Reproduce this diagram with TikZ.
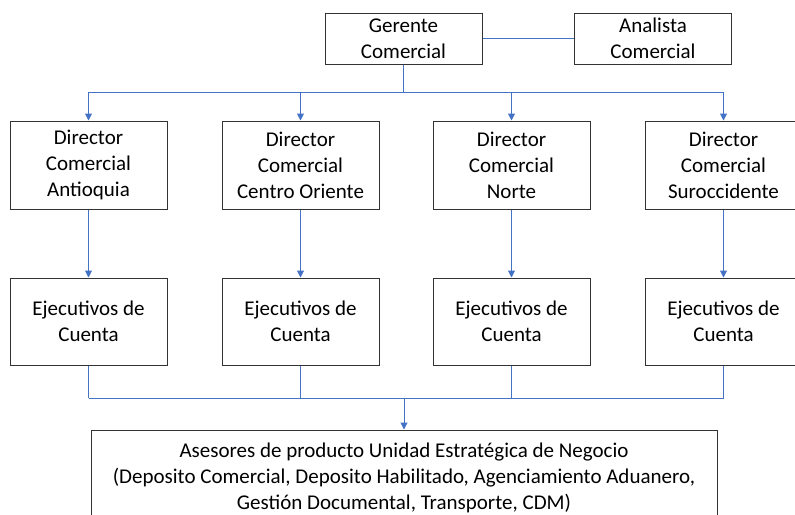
\documentclass[tikz,border=0pt]{standalone}
\usepackage{fontspec}
\setmainfont{Carlito}
\usetikzlibrary{arrows.meta}
\definecolor{linkblue}{HTML}{4472C4}
\begin{document}
\begin{tikzpicture}[x=1pt,y=-1pt,
  box/.style={draw=black!80,line width=1pt,align=center,inner sep=0pt,
    font=\fontsize{21}{26}\selectfont,minimum width=157pt},
  topbox/.style={box,minimum height=51pt},
  dirbox/.style={box,minimum height=88pt},
  ejbox/.style={box,minimum height=87pt},
  conn/.style={draw=linkblue,line width=1pt},
  arr/.style={conn,-{Triangle[width=7pt,length=7pt]}}]
\useasboundingbox (0,0) rectangle (795,514);
\clip (0,0) rectangle (795,514);
\node[topbox] (ger) at (403.5,38.5) {Gerente\\Comercial};
\node[topbox] (ana) at (653,38.5) {Analista\\Comercial};
\node[dirbox] (d1) at (88.5,165) {Director\\Comercial\\Antioquia};
\node[dirbox] (d2) at (300.5,165) {Director\\Comercial\\Centro Oriente};
\node[dirbox] (d3) at (511.5,165) {Director\\Comercial\\Norte};
\node[dirbox] (d4) at (723.5,165) {Director\\Comercial\\Suroccidente};
\node[ejbox] (e1) at (88.5,321.5) {Ejecutivos de\\Cuenta};
\node[ejbox] (e2) at (300.5,321.5) {Ejecutivos de\\Cuenta};
\node[ejbox] (e3) at (511.5,321.5) {Ejecutivos de\\Cuenta};
\node[ejbox] (e4) at (723.5,321.5) {Ejecutivos de\\Cuenta};
\node[box,minimum width=626pt,minimum height=96pt] (as) at (404,478)
  {Asesores de producto Unidad Estratégica de Negocio\\(Deposito Comercial, Deposito Habilitado, Agenciamiento Aduanero,\\Gestión Documental, Transporte, CDM)};
\draw[conn] (ger.east) -- (ana.west);
\coordinate (top) at (403.5,92);
\coordinate (bot) at (404,398);
\draw[conn] (ger.south) -- (top);
\draw[conn] (d1.north |- top) -- (d4.north |- top);
\draw[conn] (e1.south |- bot) -- (e4.south |- bot);
\foreach \i in {1,2,3,4}{
  \draw[arr] (d\i.north |- top) -- (d\i.north);
  \draw[arr] (d\i.south) -- (e\i.north);
  \draw[conn] (e\i.south) -- (e\i.south |- bot);
}
\draw[arr] (bot) -- (as.north);
\end{tikzpicture}
\end{document}
